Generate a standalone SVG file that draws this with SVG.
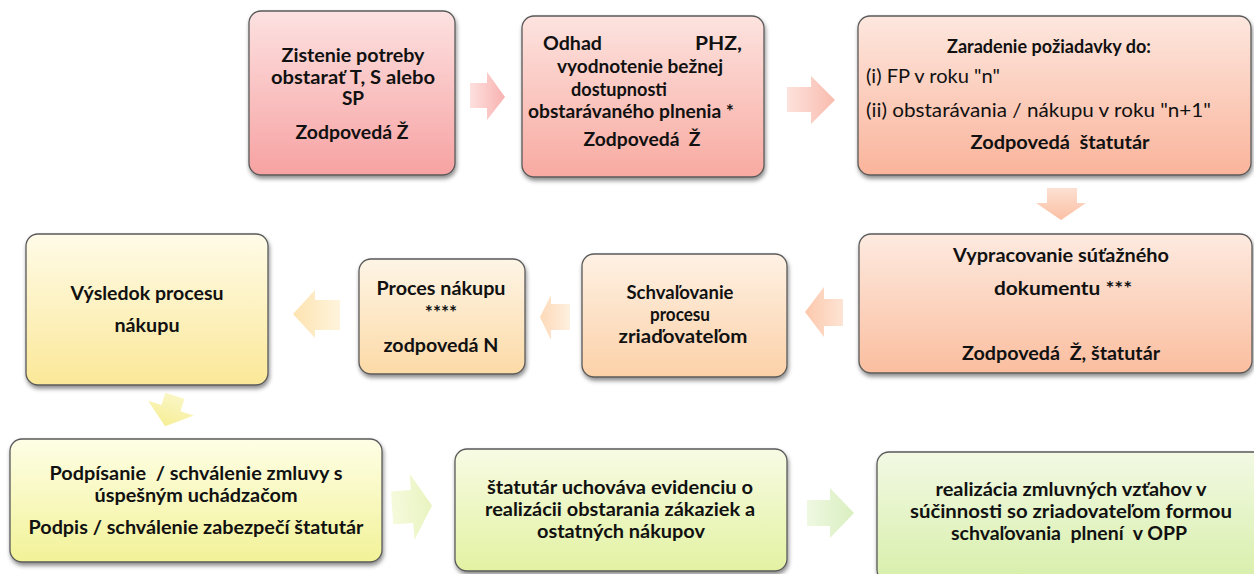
<svg xmlns="http://www.w3.org/2000/svg" width="1254" height="574" viewBox="0 0 1254 574">
<style>
.box{stroke:#5a5a5a;stroke-width:1.3;filter:url(#sh)}
.t{font-family:Lato,"Liberation Sans",sans-serif;font-weight:bold;font-size:19px;fill:#111;white-space:pre}
.r{font-weight:normal}
.m{text-anchor:middle}
.e{text-anchor:end}
</style>
<defs>
<filter id="sh" x="-10%" y="-10%" width="120%" height="130%">
<feDropShadow dx="1" dy="3" stdDeviation="2" flood-color="#000" flood-opacity="0.45"/>
</filter>
<linearGradient id="g1" x1="0" y1="0" x2="0" y2="1"><stop offset="0" stop-color="#fde1e1"/><stop offset="1" stop-color="#f7a2a2"/></linearGradient>
<linearGradient id="g2" x1="0" y1="0" x2="0" y2="1"><stop offset="0" stop-color="#fde3df"/><stop offset="1" stop-color="#f8aaa1"/></linearGradient>
<linearGradient id="g3" x1="0" y1="0" x2="0" y2="1"><stop offset="0" stop-color="#fde7de"/><stop offset="1" stop-color="#fab49b"/></linearGradient>
<linearGradient id="g4" x1="0" y1="0" x2="0" y2="1"><stop offset="0" stop-color="#fdeae0"/><stop offset="1" stop-color="#fbbe9f"/></linearGradient>
<linearGradient id="g5" x1="0" y1="0" x2="0" y2="1"><stop offset="0" stop-color="#fef1e4"/><stop offset="1" stop-color="#fcd1a8"/></linearGradient>
<linearGradient id="g6" x1="0" y1="0" x2="0" y2="1"><stop offset="0" stop-color="#fef5e6"/><stop offset="1" stop-color="#fcdaa6"/></linearGradient>
<linearGradient id="g7" x1="0" y1="0" x2="0" y2="1"><stop offset="0" stop-color="#fffbe8"/><stop offset="1" stop-color="#fbe898"/></linearGradient>
<linearGradient id="g8" x1="0" y1="0" x2="0" y2="1"><stop offset="0" stop-color="#fefee6"/><stop offset="1" stop-color="#f2f298"/></linearGradient>
<linearGradient id="g9" x1="0" y1="0" x2="0" y2="1"><stop offset="0" stop-color="#f8fbe4"/><stop offset="1" stop-color="#e2f2a2"/></linearGradient>
<linearGradient id="g10" x1="0" y1="0" x2="0" y2="1"><stop offset="0" stop-color="#f2f9e4"/><stop offset="1" stop-color="#d8efaa"/></linearGradient>
<linearGradient id="a1" x1="0" y1="0" x2="1" y2="0"><stop offset="0" stop-color="#fde0de"/><stop offset="1" stop-color="#f8b2b0"/></linearGradient>
<linearGradient id="a2" x1="0" y1="0" x2="1" y2="0"><stop offset="0" stop-color="#fde2dc"/><stop offset="1" stop-color="#f9bbae"/></linearGradient>
<linearGradient id="a3" x1="0" y1="0" x2="0" y2="1"><stop offset="0" stop-color="#fde0d2"/><stop offset="1" stop-color="#fbc0a4"/></linearGradient>
<linearGradient id="a4" x1="1" y1="0" x2="0" y2="0"><stop offset="0" stop-color="#fde4d4"/><stop offset="1" stop-color="#fcc8ac"/></linearGradient>
<linearGradient id="a5" x1="1" y1="0" x2="0" y2="0"><stop offset="0" stop-color="#fef0e0"/><stop offset="1" stop-color="#fdd9b8"/></linearGradient>
<linearGradient id="a6" x1="1" y1="0" x2="0" y2="0"><stop offset="0" stop-color="#fef4dc"/><stop offset="1" stop-color="#fde3b0"/></linearGradient>
<linearGradient id="a7" x1="0" y1="0" x2="0" y2="1"><stop offset="0" stop-color="#faf6c4"/><stop offset="1" stop-color="#f6ee96"/></linearGradient>
<linearGradient id="a8" x1="0" y1="0" x2="1" y2="0"><stop offset="0" stop-color="#f6fadc"/><stop offset="1" stop-color="#e8f4c0"/></linearGradient>
<linearGradient id="a9" x1="0" y1="0" x2="1" y2="0"><stop offset="0" stop-color="#eff8e2"/><stop offset="1" stop-color="#d9efc0"/></linearGradient>
</defs>
<rect width="1254" height="574" fill="#ffffff"/>

<g id="connectors">
<polygon points="470,83 487,83 487,72 505,97 487,120 487,108 470,108" fill="url(#a1)"/>
<polygon points="787,87 811,87 811,76 835,100 811,124 811,112 787,112" fill="url(#a2)"/>
<polygon points="1047,188 1077,188 1077,203 1086,203 1061,220 1036,203 1047,203" fill="url(#a3)"/>
<polygon points="843,299 824,299 824,287 805,312 824,337 824,326 843,326" fill="url(#a4)"/>
<polygon points="570,304 551,304 551,295 540,317 551,340 551,330 570,330" fill="url(#a5)"/>
<polygon points="340,300 315,300 315,290 293,314 315,338 315,330 340,330" fill="url(#a6)"/>
<polygon transform="translate(170,411) rotate(18)" points="-10,-16 10,-16 10,-3 24,-3 0,16 -24,-3 -10,-3" fill="url(#a7)"/>
<polygon transform="rotate(-4 412 506)" points="392,490 412,490 412,474 432,507 412,540 412,523 392,523" fill="url(#a8)"/>
<polygon points="807,500 830,500 830,488 854,513 830,538 830,526 807,526" fill="url(#a9)"/>
</g>

<g id="n1">
<rect class="box" x="249" y="11" width="206" height="164" rx="12" fill="url(#g1)"/>
<text class="t m" x="353" y="62" textLength="143" lengthAdjust="spacingAndGlyphs">Zistenie potreby</text>
<text class="t m" x="353" y="84" textLength="164" lengthAdjust="spacingAndGlyphs">obstarať T, S alebo</text>
<text class="t m" x="353" y="105">SP</text>
<text class="t m" x="352" y="139" textLength="113" lengthAdjust="spacingAndGlyphs">Zodpovedá Ž</text>
</g>

<g id="n2">
<rect class="box" x="522" y="16" width="242" height="161" rx="12" fill="url(#g2)"/>
<text class="t" x="543" y="50" textLength="59" lengthAdjust="spacingAndGlyphs">Odhad</text>
<text class="t e" x="742" y="50" textLength="47" lengthAdjust="spacingAndGlyphs">PHZ,</text>
<text class="t m" x="640" y="73" textLength="166" lengthAdjust="spacingAndGlyphs">vyodnotenie bežnej</text>
<text class="t" x="571" y="96" textLength="96" lengthAdjust="spacingAndGlyphs">dostupnosti</text>
<text class="t m" x="631" y="118" textLength="206" lengthAdjust="spacingAndGlyphs">obstarávaného plnenia *</text>
<text class="t m" x="642" y="146" textLength="117" lengthAdjust="spacingAndGlyphs">Zodpovedá  Ž</text>
</g>

<g id="n3">
<rect class="box" x="858" y="16" width="393" height="159" rx="12" fill="url(#g3)"/>
<text class="t m" x="1049" y="53" textLength="204" lengthAdjust="spacingAndGlyphs">Zaradenie požiadavky do:</text>
<text class="t r" x="866" y="83" textLength="134" lengthAdjust="spacingAndGlyphs">(i) FP v roku "n"</text>
<text class="t r" x="866" y="117" textLength="345" lengthAdjust="spacingAndGlyphs">(ii) obstarávania / nákupu v roku "n+1"</text>
<text class="t m" x="1060" y="149" textLength="179" lengthAdjust="spacingAndGlyphs">Zodpovedá  štatutár</text>
</g>

<g id="n4">
<rect class="box" x="859" y="234" width="393" height="139" rx="12" fill="url(#g4)"/>
<text class="t m" x="1061" y="262" textLength="216" lengthAdjust="spacingAndGlyphs">Vypracovanie súťažného</text>
<text class="t m" x="1063" y="295" textLength="138" lengthAdjust="spacingAndGlyphs">dokumentu ***</text>
<text class="t m" x="1061" y="360" textLength="198" lengthAdjust="spacingAndGlyphs">Zodpovedá  Ž, štatutár</text>
</g>

<g id="n5">
<rect class="box" x="582" y="254" width="205" height="123" rx="12" fill="url(#g5)"/>
<text class="t m" x="680" y="299" textLength="107" lengthAdjust="spacingAndGlyphs">Schvaľovanie</text>
<text class="t m" x="680" y="321" textLength="60" lengthAdjust="spacingAndGlyphs">procesu</text>
<text class="t m" x="683" y="343" textLength="129" lengthAdjust="spacingAndGlyphs">zriaďovateľom</text>
</g>

<g id="n6">
<rect class="box" x="359" y="259" width="166" height="115" rx="12" fill="url(#g6)"/>
<text class="t m" x="441" y="295" textLength="129" lengthAdjust="spacingAndGlyphs">Proces nákupu</text>
<text class="t m" x="441" y="319">****</text>
<text class="t m" x="441" y="352" textLength="115" lengthAdjust="spacingAndGlyphs">zodpovedá N</text>
</g>

<g id="n7">
<rect class="box" x="26" y="234" width="242" height="151" rx="12" fill="url(#g7)"/>
<text class="t m" x="147" y="300" textLength="153" lengthAdjust="spacingAndGlyphs">Výsledok procesu</text>
<text class="t m" x="147" y="332" textLength="65" lengthAdjust="spacingAndGlyphs">nákupu</text>
</g>

<g id="n8">
<rect class="box" x="10" y="439" width="372" height="123" rx="12" fill="url(#g8)"/>
<text class="t m" x="196" y="480" textLength="293" lengthAdjust="spacingAndGlyphs">Podpísanie  / schválenie zmluvy s</text>
<text class="t m" x="196" y="502" textLength="203" lengthAdjust="spacingAndGlyphs">úspešným uchádzačom</text>
<text class="t m" x="196" y="534" textLength="335" lengthAdjust="spacingAndGlyphs">Podpis / schválenie zabezpečí štatutár</text>
</g>

<g id="n9">
<rect class="box" x="455" y="449" width="332" height="122" rx="12" fill="url(#g9)"/>
<text class="t m" x="620" y="494" textLength="266" lengthAdjust="spacingAndGlyphs">štatutár uchováva evidenciu o</text>
<text class="t m" x="620" y="516" textLength="270" lengthAdjust="spacingAndGlyphs">realizácii obstarania zákaziek a</text>
<text class="t m" x="621" y="538" textLength="168" lengthAdjust="spacingAndGlyphs">ostatných nákupov</text>
</g>

<g id="n10">
<rect class="box" x="877" y="452" width="388" height="130" rx="12" fill="url(#g10)"/>
<text class="t m" x="1071" y="496" textLength="271" lengthAdjust="spacingAndGlyphs">realizácia zmluvných vzťahov v</text>
<text class="t m" x="1071" y="518" textLength="322" lengthAdjust="spacingAndGlyphs">súčinnosti so zriadovateľom formou</text>
<text class="t m" x="1069" y="540" textLength="236" lengthAdjust="spacingAndGlyphs">schvaľovania  plnení  v OPP</text>
</g>
</svg>
